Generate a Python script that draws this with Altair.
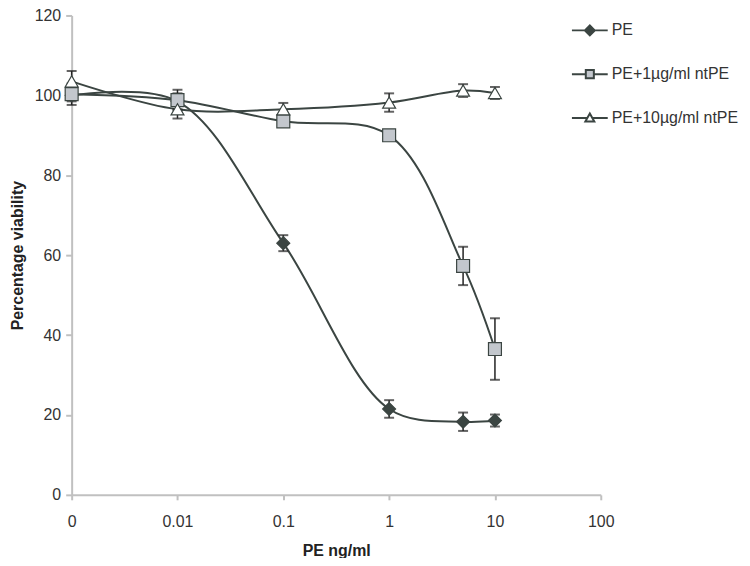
import math
import altair as alt
import pandas as pd

# ---- data ----
conc = [0, 0.01, 0.1, 1, 5, 10]
series_names = ["PE", "PE+1µg/ml ntPE", "PE+10µg/ml ntPE"]
pe_mean = [100.0, 98.5, 63.0, 21.5, 18.3, 18.6]
pe_err = [1.5, 2.0, 2.0, 2.2, 2.3, 1.5]
pe1_mean = [100.3, 98.8, 93.5, 90.0, 57.3, 36.5]
pe1_err = [2.7, 2.6, 1.0, 1.0, 4.8, 7.7]
pe10_mean = [103.5, 96.5, 96.5, 98.2, 101.2, 100.6]
pe10_err = [2.6, 2.3, 1.6, 2.3, 1.6, 1.5]
x_tick_labels = ["0", "0.01", "0.1", "1", "10", "100"]

rows = []
for name, means, errs in zip(series_names, [pe_mean, pe1_mean, pe10_mean], [pe_err, pe1_err, pe10_err]):
    for c, m, e in zip(conc, means, errs):
        # category-style log axis: 0 sits one decade below 0.01
        pos = 0.0 if c == 0 else math.log10(c) + 3
        rows.append({"series": name, "conc": c, "pos": pos, "val": m, "lo": m - e, "hi": m + e})
df = pd.DataFrame(rows)

LINE = "#3b4542"
FONT = "Liberation Sans"
fills = [LINE, "#c3c7cd", "#ffffff"]
shapes = ["diamond", "square", "triangle-up"]

label_expr = "[" + ",".join("'" + t + "'" for t in x_tick_labels) + "][datum.value]"

x_enc = alt.X(
    "pos:Q",
    scale=alt.Scale(domain=[0, 5], nice=False, zero=False),
    axis=alt.Axis(values=[0, 1, 2, 3, 4, 5], labelExpr=label_expr, title="PE ng/ml",
                  labelPadding=14, titlePadding=13, tickSize=5, labelFlush=False),
)
y_enc = alt.Y(
    "val:Q",
    scale=alt.Scale(domain=[0, 120], nice=False),
    axis=alt.Axis(values=[0, 20, 40, 60, 80, 100, 120], title="Percentage viability",
                  labelPadding=5, titlePadding=9, tickSize=6, labelFlush=False),
)

base = alt.Chart(df)

lines = base.mark_line(interpolate="catmull-rom", color=LINE, strokeWidth=2).encode(
    x=x_enc, y=y_enc, detail="series:N", order="pos:Q"
)

err_rule = base.mark_rule(color="#222222", strokeWidth=1.5).encode(
    x="pos:Q", y="lo:Q", y2="hi:Q"
)
cap_lo = base.mark_tick(color="#222222", orient="horizontal", size=10, thickness=2).encode(
    x="pos:Q", y="lo:Q"
)
cap_hi = base.mark_tick(color="#222222", orient="horizontal", size=10, thickness=2).encode(
    x="pos:Q", y="hi:Q"
)

point_layers = []
for name, shp, fc in zip(series_names, shapes, fills):
    point_layers.append(
        base.transform_filter(alt.datum.series == name)
        .mark_point(shape=shp, filled=True, size=169, fill=fc, stroke=LINE, strokeWidth=1.2, opacity=1)
        .encode(x="pos:Q", y="val:Q")
    )

legend_paths = [
    "M-2,0H2M0,-0.55L0.55,0L0,0.55L-0.55,0Z",
    "M-2,0H-0.45M0.45,0H2M-0.45,-0.45H0.45V0.45H-0.45Z",
    "M-2,0H-0.3M0.3,0H2M0,-0.5L0.5,0.4H-0.5Z",
]
leg = alt.Legend(
    orient="none", legendX=511, legendY=5, title=None,
    labelFont=FONT, labelFontSize=16, labelColor="#333333",
    symbolSize=324, symbolStrokeWidth=2, symbolOpacity=1,
    rowPadding=25, labelOffset=12, padding=0,
)
legend_layer = base.mark_point(filled=False, size=324, strokeWidth=2, opacity=1).encode(
    x="pos:Q",
    y="val:Q",
    shape=alt.Shape("series:N", scale=alt.Scale(domain=series_names, range=legend_paths), legend=leg),
    fill=alt.Fill("series:N", scale=alt.Scale(domain=series_names, range=fills), legend=leg),
    stroke=alt.Stroke("series:N", scale=alt.Scale(domain=series_names, range=[LINE, LINE, LINE]), legend=leg),
).transform_filter("false")

chart = (
    alt.layer(lines, err_rule, cap_lo, cap_hi, *point_layers, legend_layer)
    .properties(
        width=532, height=482,
        autosize=alt.AutoSizeParams(type="none"),
        padding={"left": 64, "top": 6, "right": 142, "bottom": 62},
        background="white",
    )
    .configure_view(stroke=None)
    .configure_axis(
        grid=False,
        domainColor="#c0c0c0", domainWidth=2,
        tickColor="#c0c0c0", tickWidth=2,
        labelFont=FONT, labelFontSize=16, labelColor="#333333",
        titleFont=FONT, titleFontSize=16, titleFontWeight="bold", titleColor="#222222",
    )
)

chart.save("out.html", embed_options={"renderer": "svg", "actions": False})
